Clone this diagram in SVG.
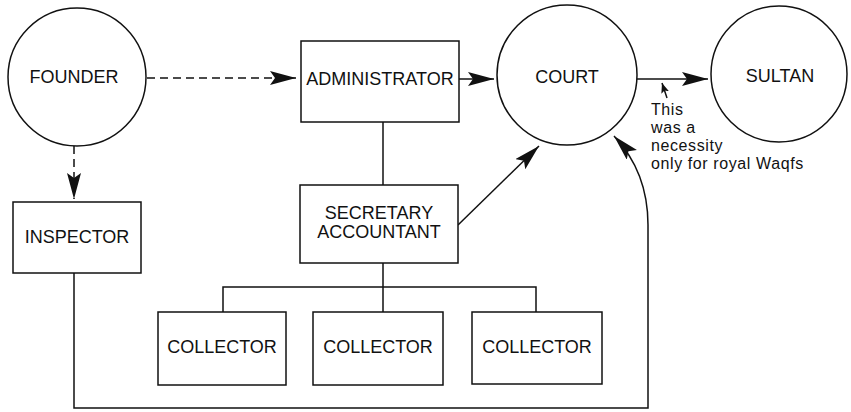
<svg xmlns="http://www.w3.org/2000/svg" width="851" height="412" viewBox="0 0 851 412">
<style>
.n{fill:#fff;stroke:#111;stroke-width:1.5}
.t{font-family:"Liberation Sans",Arial,sans-serif;font-size:18px;fill:#111;text-anchor:middle;dominant-baseline:central}
.note{font-family:"Liberation Sans",Arial,sans-serif;font-size:16px;fill:#111;letter-spacing:0.6px}
.c{fill:none;stroke:#111;stroke-width:1.5}
.d{stroke-dasharray:8 5}
</style>
<defs>
<marker id="ah" markerUnits="userSpaceOnUse" markerWidth="28" markerHeight="16" refX="26" refY="7" orient="auto">
<path d="M0,0 L26,7 L0,14 L5,7 Z" fill="#111"/>
</marker>
<marker id="sm" markerUnits="userSpaceOnUse" markerWidth="12" markerHeight="10" refX="10" refY="4" orient="auto">
<path d="M0,0 L10,4 L0,8 L2,4 Z" fill="#111"/>
</marker>
</defs>
<g id="connectors">
<line class="c d" x1="147" y1="78" x2="296" y2="78" marker-end="url(#ah)"/>
<line class="c d" x1="74" y1="146" x2="74" y2="199" marker-end="url(#ah)"/>
<line class="c" x1="459" y1="79" x2="494" y2="79" marker-end="url(#ah)"/>
<line class="c" x1="637" y1="79" x2="708" y2="79" marker-end="url(#ah)"/>
<line class="c" x1="383" y1="122" x2="383" y2="185"/>
<line class="c" x1="458" y1="225" x2="539" y2="146" marker-end="url(#ah)"/>
<path class="c" d="M383,263 V287 M223,312 V287 H536 V312 M383,287 V312"/>
<path class="c" d="M74,273 V408 H648 V225 Q648,172 614,136" marker-end="url(#ah)"/>
<line class="c" x1="667" y1="98" x2="662" y2="83" stroke-width="1.2" marker-end="url(#sm)"/>
</g>
<g id="founder"><circle class="n" cx="77" cy="77" r="69"/><text class="t" x="74" y="77">FOUNDER</text></g>
<g id="administrator"><rect class="n" x="301" y="41" width="158" height="81"/><text class="t" x="380" y="79">ADMINISTRATOR</text></g>
<g id="court"><circle class="n" cx="567" cy="75" r="70"/><text class="t" x="567" y="77">COURT</text></g>
<g id="sultan"><circle class="n" cx="779" cy="74" r="68"/><text class="t" x="780" y="76">SULTAN</text></g>
<g id="inspector"><rect class="n" x="13" y="202" width="128" height="71"/><text class="t" x="77" y="237">INSPECTOR</text></g>
<g id="secretary"><rect class="n" x="300" y="185" width="158" height="78"/><text class="t" x="379" y="213">SECRETARY</text><text class="t" x="379" y="232">ACCOUNTANT</text></g>
<g id="collector1"><rect class="n" x="158" y="312" width="128" height="73"/><text class="t" x="222" y="347">COLLECTOR</text></g>
<g id="collector2"><rect class="n" x="313" y="312" width="130" height="73"/><text class="t" x="378" y="347">COLLECTOR</text></g>
<g id="collector3"><rect class="n" x="472" y="312" width="130" height="72"/><text class="t" x="537" y="347">COLLECTOR</text></g>
<g id="note">
<text class="note" x="651" y="115">This</text>
<text class="note" x="651" y="133">was a</text>
<text class="note" x="651" y="151">necessity</text>
<text class="note" x="651" y="169">only for royal Waqfs</text>
</g>
</svg>
